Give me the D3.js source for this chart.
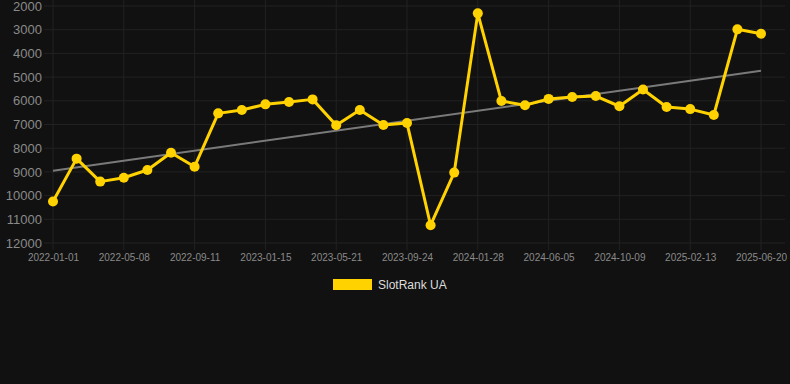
<!DOCTYPE html>
<html>
<head>
<meta charset="utf-8">
<script src="https://cdn.jsdelivr.net/npm/d3@7"></script>
<style>
	body { margin: 0; background: #111111; }
	svg { display: block; font-family: "Liberation Sans", Arial, sans-serif; }
</style>
</head>
<body>
<svg id="chart" width="790" height="384"></svg>
<script>

// dates of the samples (x axis shows every third one)
const dates = [
	'2022-01-01', '2022-02-12', '2022-03-26', '2022-05-08', '2022-06-19', '2022-07-31',
	'2022-09-11', '2022-10-23', '2022-12-04', '2023-01-15', '2023-02-26', '2023-04-09',
	'2023-05-21', '2023-07-02', '2023-08-13', '2023-09-24', '2023-11-05', '2023-12-17',
	'2024-01-28', '2024-03-10', '2024-04-22', '2024-06-05', '2024-07-17', '2024-08-28',
	'2024-10-09', '2024-11-20', '2025-01-01', '2025-02-13', '2025-03-27', '2025-05-08',
	'2025-06-20'
];

// SlotRank UA
const ranks = [
	10250, 8440, 9410, 9245, 8920, 8190,
	8780, 6530, 6390, 6150, 6050, 5940,
	7035, 6390, 7020, 6940, 11250, 9030,
	2310, 6010, 6190, 5920, 5840, 5800,
	6230, 5520, 6260, 6350, 6600, 2985,
	3170
];

// trend line, first and last value
const trend = [8950, 4730];

const yTicks = [2000, 3000, 4000, 5000, 6000, 7000, 8000, 9000, 10000, 11000, 12000];
const seriesName = 'SlotRank UA';

let svg = d3.select('#chart');

let x = d3.scalePoint()
	.domain(dates)
	.range([53, 761]);

let y = d3.scaleLinear()
	.domain([2000, 12000])
	.range([6, 243]);

let xLabels = dates.filter((d, i) => i % 3 == 0);

// grid
svg.append('g')
	.selectAll('line')
	.data(yTicks)
	.join('line')
	.attr('x1', 44)
	.attr('x2', 785)
	.attr('y1', d => y(d))
	.attr('y2', d => y(d))
	.attr('stroke', '#222222')
	.attr('stroke-width', 1);

svg.append('g')
	.selectAll('line')
	.data(xLabels)
	.join('line')
	.attr('x1', d => x(d))
	.attr('x2', d => x(d))
	.attr('y1', 0)
	.attr('y2', 250)
	.attr('stroke', '#222222')
	.attr('stroke-width', 1);

// y axis
let yAxis = svg.append('g')
	.attr('transform', 'translate(44,0)')
	.call(d3.axisLeft(y).tickValues(yTicks).tickSize(0).tickPadding(2).tickFormat(d3.format('d')));
yAxis.select('.domain').remove();
yAxis.selectAll('text')
	.attr('fill', '#8a8a8a')
	.style('font-size', '13px');

// x axis
let xAxis = svg.append('g')
	.attr('transform', 'translate(0,252)')
	.call(d3.axisBottom(x).tickValues(xLabels).tickSize(0).tickPadding(2));
xAxis.select('.domain').remove();
xAxis.selectAll('text')
	.attr('fill', '#8a8a8a')
	.style('font-size', '10px');

// trend
svg.append('line')
	.attr('x1', x(dates[0]))
	.attr('x2', x(dates[dates.length - 1]))
	.attr('y1', y(trend[0]))
	.attr('y2', y(trend[1]))
	.attr('stroke', '#7a7a7a')
	.attr('stroke-width', 2);

// series
let line = d3.line()
	.x((d, i) => x(dates[i]))
	.y(d => y(d));

svg.append('path')
	.datum(ranks)
	.attr('d', line)
	.attr('fill', 'none')
	.attr('stroke', '#FFD200')
	.attr('stroke-width', 3)
	.attr('stroke-linejoin', 'round');

svg.append('g')
	.selectAll('circle')
	.data(ranks)
	.join('circle')
	.attr('cx', (d, i) => x(dates[i]))
	.attr('cy', d => y(d))
	.attr('r', 5)
	.attr('fill', '#FFD200');

// legend
svg.append('rect')
	.attr('x', 333)
	.attr('y', 279)
	.attr('width', 39)
	.attr('height', 11)
	.attr('fill', '#FFD200');

svg.append('text')
	.attr('x', 378)
	.attr('y', 289)
	.attr('fill', '#dddddd')
	.style('font-size', '12px')
	.text(seriesName);

</script>
</body>
</html>
